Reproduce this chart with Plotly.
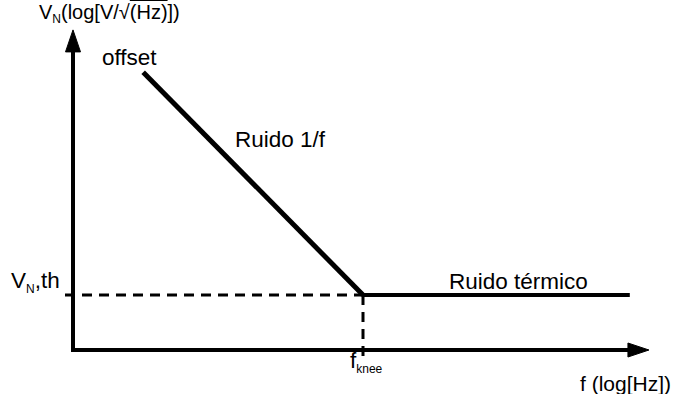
import plotly.graph_objects as go

# Canvas and axis scale (pixels per log-unit)
W, H = 679, 394
PX_X, PX_Y = 58, 55
X0_PX, Y0_PX = 73, 350

# Noise spectral density model in log-log units
f_1f = [1.21, 5.0]          # 1/f noise segment: from offset down to the knee
v_1f = [5.05, 1.0]
f_th = [5.0, 9.6]           # thermal noise floor
v_th = [1.0, 1.0]
f_knee = 5.0
v_th_level = 1.0

# Axis extents (arrow tips)
x_axis_tip = 9.93
y_axis_tip = 5.82

# Text labels
labels = ["offset", "Ruido 1/f", "Ruido térmico"]
label_x = [0.47, 2.76, 6.45]
label_y = [5.32, 3.83, 1.24]

FONT = "Liberation Sans, Arial, sans-serif"
INK = "#000000"
SIZE = 22.5

x_range = [-X0_PX / PX_X, (W - X0_PX) / PX_X]
y_range = [-(H - Y0_PX) / PX_Y, Y0_PX / PX_Y]

fig = go.Figure()

# Axes drawn as an L-shaped polyline
fig.add_trace(go.Scatter(
    x=[0, 0, x_axis_tip - 18 / PX_X], y=[y_axis_tip - 18 / PX_Y, 0, 0],
    mode="lines", line=dict(color=INK, width=4), hoverinfo="skip"))


def arrow_head(tip_x, tip_y, direction, length_px, half_px):
    if direction == "up":
        xs = [tip_x, tip_x - half_px / PX_X, tip_x + half_px / PX_X, tip_x]
        ys = [tip_y, tip_y - length_px / PX_Y, tip_y - length_px / PX_Y, tip_y]
    else:
        xs = [tip_x, tip_x - length_px / PX_X, tip_x - length_px / PX_X, tip_x]
        ys = [tip_y, tip_y + half_px / PX_Y, tip_y - half_px / PX_Y, tip_y]
    return go.Scatter(x=xs, y=ys, mode="lines", fill="toself",
                      fillcolor=INK, line=dict(color=INK, width=1),
                      hoverinfo="skip")


fig.add_trace(arrow_head(0, y_axis_tip, "up", 22, 7.5))
fig.add_trace(arrow_head(x_axis_tip, 0, "right", 21, 7))

# Dashed guides to the knee point
fig.add_trace(go.Scatter(
    x=[-8 / PX_X, f_knee], y=[v_th_level, v_th_level], mode="lines",
    line=dict(color=INK, width=3, dash="10px,7px"), hoverinfo="skip"))
fig.add_trace(go.Scatter(
    x=[f_knee, f_knee], y=[v_th_level, -8 / PX_Y], mode="lines",
    line=dict(color=INK, width=3, dash="10px,7px"), hoverinfo="skip"))

# Noise curves
fig.add_trace(go.Scatter(x=f_1f, y=v_1f, mode="lines",
                         line=dict(color=INK, width=5), hoverinfo="skip"))
fig.add_trace(go.Scatter(x=f_th, y=v_th, mode="lines",
                         line=dict(color=INK, width=4), hoverinfo="skip"))

annotations = []
for t, x, y in zip(labels, label_x, label_y):
    annotations.append(dict(x=x, y=y, text=t, showarrow=False,
                            xanchor="left", yanchor="middle",
                            font=dict(family=FONT, size=SIZE, color=INK)))

sub = "<sub><span style='font-size:12px'>{}</span></sub>"

annotations += [
    dict(x=-0.62, y=6.11, xanchor="left", yanchor="middle", showarrow=False,
         text="V" + sub.format("N") + "(log[V/√<span style='text-decoration:overline'>(Hz)</span>])",
         font=dict(family=FONT, size=20, color=INK)),
    dict(x=-0.19, y=1.245, xanchor="right", yanchor="middle", showarrow=False,
         text="V" + sub.format("N") + ",th",
         font=dict(family=FONT, size=SIZE, color=INK)),
    dict(x=4.74, y=-0.22, xanchor="left", yanchor="middle", showarrow=False,
         text="f" + sub.format("knee"),
         font=dict(family=FONT, size=SIZE, color=INK)),
    dict(x=8.70, y=-0.6, xanchor="left", yanchor="middle", showarrow=False,
         text="f (log[Hz])",
         font=dict(family=FONT, size=21, color=INK)),
]

fig.update_layout(
    width=W, height=H, autosize=False,
    margin=dict(l=0, r=0, t=0, b=0, pad=0),
    paper_bgcolor="white", plot_bgcolor="white",
    showlegend=False,
    xaxis=dict(range=x_range, visible=False, fixedrange=True),
    yaxis=dict(range=y_range, visible=False, fixedrange=True),
    annotations=annotations,
)

fig.write_html("out.html", config=dict(displayModeBar=False))
